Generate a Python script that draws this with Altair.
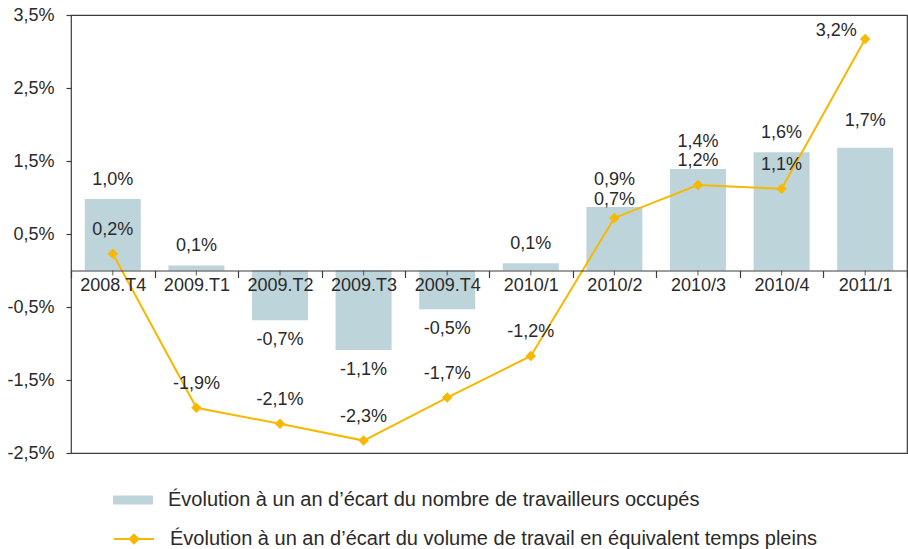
import altair as alt
import pandas as pd

cats = ["2008.T4", "2009.T1", "2009.T2", "2009.T3", "2009.T4",
        "2010/1", "2010/2", "2010/3", "2010/4", "2011/1"]
workers = [0.98, 0.07, -0.68, -1.09, -0.53, 0.10, 0.87, 1.39, 1.62, 1.68]
volume = [0.23, -1.88, -2.10, -2.33, -1.74, -1.17, 0.72, 1.17, 1.12, 3.17]
y_ticks = [-2.5, -1.5, -0.5, 0.5, 1.5, 2.5, 3.5]
series_bar = "Évolution à un an d’écart du nombre de travailleurs occupés"
series_line = "Évolution à un an d’écart du volume de travail en équivalent temps pleins"


def fmt(v):
    return f"{v:.1f}".replace(".", ",") + "%"


df = pd.DataFrame({"cat": cats, "workers": workers, "volume": volume})
df["wl"] = [fmt(v) for v in workers]
df["vl"] = [fmt(v) for v in volume]
df["s1"] = series_bar
df["s2"] = series_line
df["zero"] = 0.0

FONT = "Liberation Sans"
LFONT = "Liberation Sans"
FS = 18
TXT = "#2a2a2a"
BAR = "#bdd4da"
GOLD = "#f6b800"
FRAME = "#3c3c3c"

x_enc = alt.X(
    "cat:N", sort=cats,
    scale=alt.Scale(paddingInner=0, paddingOuter=0),
    axis=alt.Axis(title=None, labelAngle=0, offset=-182.5, tickBand="extent",
                  tickSize=7, labelPadding=-1, labelFont=FONT, labelFontSize=FS,
                  labelColor=TXT, domainColor=FRAME, tickColor=FRAME,
                  domainWidth=1.2, tickWidth=1.2, grid=False, zindex=1),
)
y_scale = alt.Scale(domain=[-2.5, 3.5], nice=False, zero=False)
y_axis = alt.Axis(title=None, values=y_ticks, grid=False, domain=False,
                  tickSize=5, tickColor=FRAME, tickWidth=1.2, labelPadding=12,
                  labelFont=FONT, labelFontSize=FS, labelColor=TXT,
                  labelExpr="replace(replace(format(datum.value, '.1f'), '.', ','), '\u2212', '-') + '%'")

base = alt.Chart(df)

bars = base.mark_bar(size=56).encode(
    x=x_enc,
    y=alt.Y("workers:Q", scale=y_scale, axis=y_axis),
    fill=alt.Fill("s1:N", scale=alt.Scale(domain=[series_bar], range=[BAR]),
                  legend=alt.Legend(orient="none", legendX=42, legendY=465, title=None,
                                    symbolType="M-1,-0.225H1V0.225H-1Z", symbolSize=1600,
                                    symbolStrokeWidth=0, labelFont=LFONT, labelFontSize=20,
                                    labelColor=TXT, labelOffset=15, labelLimit=800)),
)

center_ticks = base.mark_tick(orient="vertical", size=5, thickness=1.2, yOffset=2.5,
                              color=FRAME).encode(
    x=x_enc, y=alt.Y("zero:Q", scale=y_scale, axis=y_axis))

line = base.mark_line(strokeWidth=2).encode(
    x=x_enc,
    y=alt.Y("volume:Q", scale=y_scale, axis=y_axis),
    stroke=alt.Stroke("s2:N", scale=alt.Scale(domain=[series_line], range=[GOLD]),
                      legend=alt.Legend(orient="none", legendX=42, legendY=503, title=None,
                                        symbolType="M-1,0H1M0,-0.22L0.22,0L0,0.22L-0.22,0Z",
                                        symbolSize=1600, symbolFillColor=GOLD,
                                        symbolStrokeWidth=2, labelFont=LFONT,
                                        labelFontSize=20, labelColor=TXT, labelOffset=15,
                                        labelLimit=800)),
)

points = base.mark_point(shape="diamond", filled=True, size=110, color=GOLD,
                         opacity=1).encode(
    x=x_enc, y=alt.Y("volume:Q", scale=y_scale, axis=y_axis))

crowded = "indexof(['2010/2', '2010/3', '2011/1'], datum.cat)"
txt = dict(font=FONT, fontSize=FS, color=TXT, baseline="middle", align="center")

bar_lab_a = base.transform_filter(f"datum.workers >= 0 && {crowded} < 0").mark_text(
    dy=-19, **txt).encode(x=x_enc, y=alt.Y("workers:Q", scale=y_scale, axis=y_axis), text="wl:N")
bar_lab_b = base.transform_filter(f"datum.workers >= 0 && {crowded} >= 0").mark_text(
    dy=-27, **txt).encode(x=x_enc, y=alt.Y("workers:Q", scale=y_scale, axis=y_axis), text="wl:N")
bar_lab_n = base.transform_filter("datum.workers < 0").mark_text(
    dy=20, **txt).encode(x=x_enc, y=alt.Y("workers:Q", scale=y_scale, axis=y_axis), text="wl:N")

line_lab_a = base.transform_filter("datum.cat != '2010/2' && datum.cat != '2011/1'").mark_text(
    dy=-24, **txt).encode(x=x_enc, y=alt.Y("volume:Q", scale=y_scale, axis=y_axis), text="vl:N")
line_lab_b = base.transform_filter("datum.cat == '2010/2'").mark_text(
    dy=-18, **txt).encode(x=x_enc, y=alt.Y("volume:Q", scale=y_scale, axis=y_axis), text="vl:N")
line_lab_c = base.transform_filter("datum.cat == '2011/1'").mark_text(
    dx=-29, dy=-8, **txt).encode(x=x_enc, y=alt.Y("volume:Q", scale=y_scale, axis=y_axis), text="vl:N")

chart = alt.layer(
    bars, center_ticks, line, points,
    bar_lab_a, bar_lab_b, bar_lab_n, line_lab_a, line_lab_b, line_lab_c,
).properties(
    width=836, height=438,
    autosize=alt.AutoSizeParams(type="none"),
    padding={"left": 71, "top": 15, "right": 1, "bottom": 96},
    background="white",
).configure_view(stroke=FRAME, strokeWidth=1.2)

chart.save("out.html", embed_options={"renderer": "svg", "actions": False})
